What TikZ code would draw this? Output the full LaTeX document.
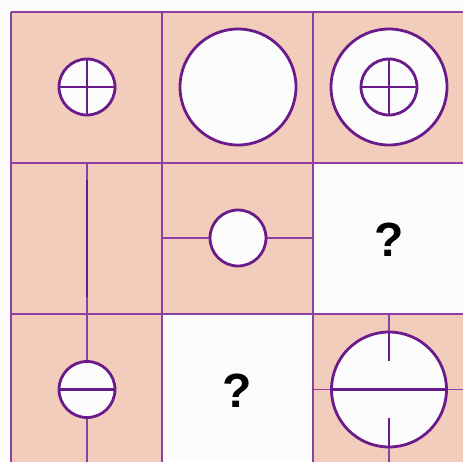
\documentclass[tikz,border=0pt]{standalone}
\usepackage{fontspec}
\setmainfont{Liberation Sans}
\usepackage{tikz}
\definecolor{rpeach}{HTML}{F2CDBB}
\definecolor{rpurple}{HTML}{6A1A8A}
\definecolor{rgrid}{HTML}{8E3FA6}
\definecolor{rpaper}{HTML}{FCFCFC}

\begin{document}
\begin{tikzpicture}[x=1pt,y=-1pt,
    ring/.style={circle,draw=rpurple,fill=rpaper,line width=2.8pt,inner sep=0pt},
    fig/.style={rpurple,line width=2.8pt},
    thinline/.style={rgrid,line width=1.6pt},
    qmark/.style={font=\fontsize{48}{48}\selectfont\bfseries}]
        \fill[rpaper] (0,0) rectangle (463,461);
        \useasboundingbox (0,0) rectangle (463,461);
        \clip (0,0) rectangle (463,461);
        \foreach \c/\r in {0/0,1/0,2/0,0/1,1/1,0/2,2/2}
          \fill[rpeach] ({11+151*\c},{12+151*\r}) rectangle +(151,151);
        \foreach \i in {0,...,3} {
          \draw[thinline] ({11+151*\i},12) -- ({11+151*\i},470);
          \draw[thinline] (11,{12+151*\i}) -- (470,{12+151*\i});
        }
        % row 1
        \node[ring,minimum size=56] (a) at (87,87) {};
        \draw[fig] (a.north) -- (a.south) (a.west) -- (a.east);
        \node[ring,minimum size=116] (b) at (238,87) {};
        \node[ring,minimum size=116] (c) at (389,87) {};
        \node[ring,minimum size=56] (ci) at (389,87) {};
        \draw[fig] (ci.north) -- (ci.south) (ci.west) -- (ci.east);
        % row 2
        \draw[thinline] (87,162) -- (87,313);
        \draw[fig] (87,180) -- (87,297);
        \node[ring,minimum size=56] (d) at (238,238) {};
        \coordinate (dl) at (162,238);
        \coordinate (dr) at (313,238);
        \draw[thinline] (dl) -- (d.west) (d.east) -- (dr);
        \node[qmark] (q1) at (389,240) {?};
        % row 3
        \node[ring,minimum size=56] (e) at (87,389.5) {};
        \draw[fig] (e.west) -- (e.east);
        \coordinate (et) at (87,313);
        \coordinate (eb) at (87,470);
        \draw[thinline] (et) -- (e.north) (e.south) -- (eb);
        \node[qmark] (q2) at (237,391) {?};
        \node[ring,minimum size=115] (f) at (389,389.5) {};
        \draw[fig] (f.west) -- (f.east);
        \draw[fig] (f.north) -- (389,361) (389,418) -- (f.south);
        \coordinate (ft) at (389,313);
        \coordinate (fb) at (389,470);
        \coordinate (fl) at (313,389.5);
        \coordinate (fr) at (470,389.5);
        \draw[thinline] (ft) -- (f.north) (f.south) -- (fb)
              (fl) -- (f.west) (f.east) -- (fr);
\end{tikzpicture}
\end{document}
